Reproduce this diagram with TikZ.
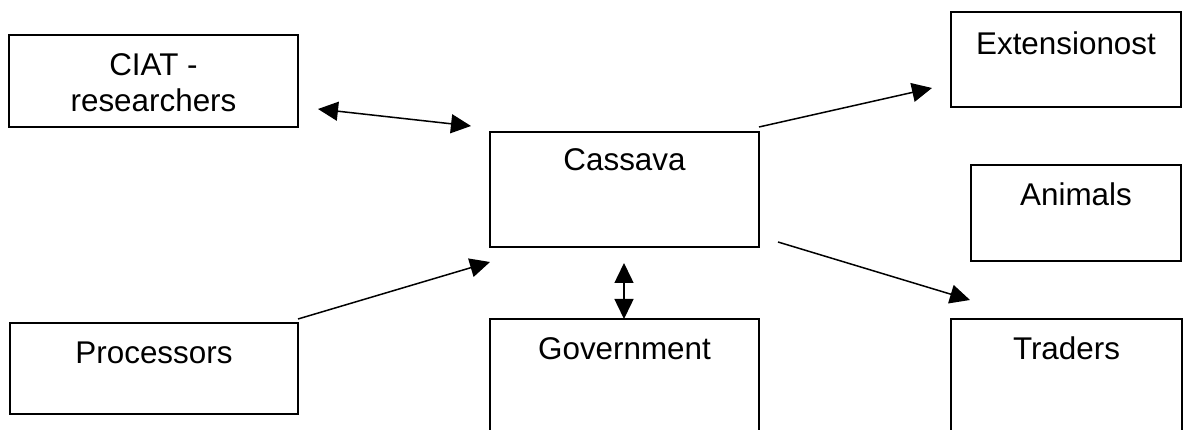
\documentclass[tikz,border=0pt]{standalone}
\usepackage{fontspec}
\setmainfont{Liberation Sans}
\usetikzlibrary{arrows.meta}
\tikzset{
  actor/.style={draw, line width=1.9pt, anchor=north west, inner sep=0pt, outer sep=0pt},
  caption/.style={anchor=north, inner sep=0pt, align=center,
    font=\fontsize{31.4}{36.5}\selectfont},
  link/.style={line width=1.5pt, -{Triangle[length=20pt,width=19pt]}},
  twoway/.style={line width=1.5pt, {Triangle[length=20pt,width=19pt]}-{Triangle[length=20pt,width=19pt]}}
}
\begin{document}
\begin{tikzpicture}[x=1pt, y=-1pt]
  \path[use as bounding box, clip] (0,0) rectangle (1183,430);
  \fill[white] (0,0) rectangle (1183,430);

  % actors around the crop
  \node[actor, minimum width=289pt, minimum height=92pt]  (ciat) at (9,35)    {};
  \node[actor, minimum width=269pt, minimum height=115pt] (cas)  at (490,132) {};
  \node[actor, minimum width=230pt, minimum height=95pt]  (ext)  at (951,12)  {};
  \node[actor, minimum width=210pt, minimum height=96pt]  (ani)  at (971,165) {};
  \node[actor, minimum width=288pt, minimum height=91pt]  (proc) at (10,323)  {};
  \node[actor, minimum width=269pt, minimum height=130pt] (gov)  at (490,319) {};
  \node[actor, minimum width=231pt, minimum height=130pt] (trad) at (951,319) {};

  % box captions
  \node[caption] at ([yshift=-18pt]ciat.north) {CIAT -\\researchers};
  \node[caption] at ([yshift=-16pt]cas.north)  {Cassava};
  \node[caption] at ([yshift=-20pt]ext.north)  {Extensionost};
  \node[caption] at ([yshift=-18pt]ani.north)  {Animals};
  \node[caption] at ([yshift=-19pt]proc.north) {Processors};
  \node[caption] at ([yshift=-18pt]gov.north)  {Government};
  \node[caption] at ([yshift=-18pt]trad.north) {Traders};

  % connector end points (arrows stop short of the boxes)
  \coordinate (ciatR)  at (318,109);
  \coordinate (casL)   at (471,126);
  \coordinate (casNE)  at (759,127);
  \coordinate (extW)   at (932,88);
  \coordinate (procNE) at (298,319);
  \coordinate (casSW)  at (490,262);
  \coordinate (casS)   at (624,263);
  \coordinate (govN)   at (624,319);
  \coordinate (casSE)  at (778,242);
  \coordinate (tradNW) at (970,300);

  \draw[twoway] (ciatR) -- (casL);
  \draw[link]   (casNE) -- (extW);
  \draw[link]   (procNE) -- (casSW);
  \draw[twoway] (casS) -- (govN);
  \draw[link]   (casSE) -- (tradNW);
\end{tikzpicture}
\end{document}
